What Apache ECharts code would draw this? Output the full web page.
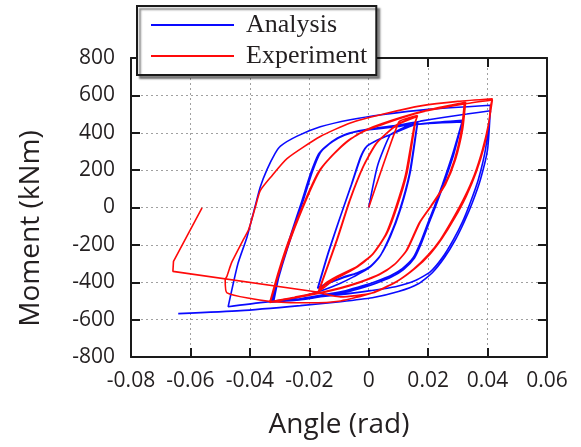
<!DOCTYPE html>
<html>
<head>
<meta charset="utf-8">
<script src="https://cdn.jsdelivr.net/npm/echarts/dist/echarts.min.js"></script>
<style>
html,body{margin:0;padding:0;background:#fff;}
#chart{width:581px;height:447px;}
</style>
</head>
<body>
<div id="chart"></div>
<script>
// ---- tick values ----
const xTicks = [-0.08, -0.06, -0.04, -0.02, 0, 0.02, 0.04, 0.06];
const yTicks = [-800, -600, -400, -200, 0, 200, 400, 600, 800];

// ---- Analysis (blue) : [angle (rad), moment (kNm)] ----
const analysisInitial = [[0,0],[0.003,225],[0.0071,386],[0.0095,410],[0.0125,432],[0.0165,455]];
const analysisCycle1 = [
  [0.0163,435],[0.014,190],[0.0107,-10],[0.0073,-155],[0.004,-255],[0.0005,-315],[-0.004,-350],[-0.0085,-372],[-0.013,-400],[-0.017,-428],
  [-0.0135,-240],[-0.0095,-47],[-0.0055,135],[-0.0025,275],[-0.0005,330],[0.003,362],[0.0065,385],[0.011,418],[0.0165,452],
  [0.0162,430],[0.0138,185],[0.0104,-15],[0.007,-160],[0.0038,-260],[0.0002,-320],[-0.0045,-355],[-0.009,-378],[-0.0135,-405],[-0.0172,-432],
  [-0.0138,-250],[-0.0098,-60],[-0.0058,125],[-0.0028,268],[-0.0008,325],[0.0028,360],[0.0062,383],[0.011,415],[0.0165,450]
];
const analysisCycle2 = [
  [0.0161,425],[0.0137,180],[0.0103,-20],[0.0068,-165],[0.0035,-268],[0.0,-325],[-0.005,-370],[-0.0095,-405],[-0.015,-440],[-0.021,-470],[-0.027,-490],[-0.0325,-502],
  [-0.0295,-330],[-0.0253,-118],[-0.022,40],[-0.019,190],[-0.0163,293],[-0.014,330],[-0.01,375],[-0.006,400],[0.0,418],[0.0107,437],[0.02,450],[0.0314,458],
  [0.0282,284],[0.0248,123],[0.0221,5],[0.0201,-75],[0.0174,-188],[0.015,-268],[0.0113,-327],[0.0073,-365],[0.0022,-397],[-0.0018,-418],[-0.0078,-445],[-0.0129,-461],[-0.023,-488],[-0.032,-504],
  [-0.0298,-340],[-0.0256,-125],[-0.0223,35],[-0.0193,185],[-0.0166,290],[-0.0143,328],[-0.0102,372],[-0.0062,398],[0.0,416],[0.0107,435],[0.02,452],[0.0316,466],
  [0.0286,284],[0.0252,123],[0.0225,5],[0.0205,-75],[0.0178,-188],[0.0154,-270],[0.0117,-332],[0.0076,-372],[0.0025,-405],[-0.0015,-426],[-0.0075,-452],[-0.0126,-468],[-0.0228,-494],[-0.033,-507]
];
const analysisCycle3 = [
  [-0.0301,-345],[-0.0259,-130],[-0.0226,30],[-0.0196,180],[-0.0169,285],[-0.0146,325],[-0.0105,372],[-0.0065,398],[0.0,420],[0.0107,442],[0.0174,462],[0.025,482],[0.033,500],[0.041,518],
  [0.0393,311],[0.0369,150],[0.0342,27],[0.0316,-75],[0.0285,-172],[0.0248,-268],[0.0208,-343],[0.0157,-391],[0.009,-424],[0.0006,-445],[-0.0095,-466],[-0.023,-488],[-0.0365,-509],[-0.0473,-531],
  [-0.044,-300],[-0.041,-160],[-0.0385,-10],[-0.0365,110],[-0.0342,204],[-0.0315,290],[-0.0297,329],[-0.0241,382],[-0.0163,432],[-0.0062,470],[0.005,498],[0.02,525],[0.041,547]
];
const analysisFinal = [
  [0.04,311],[0.0376,150],[0.0349,27],[0.0322,-75],[0.0292,-172],[0.0255,-268],[0.0214,-349],[0.0167,-408],[0.01,-450],[0.0012,-483],[-0.0095,-504],[-0.023,-525],[-0.0431,-552],[-0.0641,-568]
];

// ---- Experiment (red) ----
const experimentInitial = [[0,0],[0.0101,457],[0.0125,475],[0.0164,492]];
const experimentCycle1 = [
  [0.0157,454],[0.0129,186],[0.0096,7],[0.0062,-136],[0.0017,-243],[-0.0039,-315],[-0.0106,-368],[-0.0145,-405],[-0.0168,-449],
  [-0.0106,-172],[-0.0062,43],[-0.0017,222],[0.0028,347],[0.0096,445],[0.0164,490],
  [0.0155,448],[0.0126,180],[0.0093,0],[0.0059,-142],[0.0014,-250],[-0.0042,-322],[-0.0108,-375],[-0.0147,-412],[-0.017,-452],
  [-0.0109,-180],[-0.0065,35],[-0.002,215],[0.0025,342],[0.0094,440],[0.0163,487]
];
const experimentCycle2 = [
  [0.0154,445],[0.0124,175],[0.009,-5],[0.0056,-148],[0.001,-255],[-0.005,-330],[-0.0115,-385],[-0.0172,-452],[-0.025,-480],[-0.0331,-505],
  [-0.0298,-330],[-0.0264,-172],[-0.0208,50],[-0.0163,200],[-0.0118,285],[-0.0062,365],[-0.0006,418],[0.0107,481],[0.0208,525],[0.0326,563],
  [0.0316,418],[0.0292,257],[0.0258,123],[0.0214,16],[0.0174,-75],[0.013,-225],[0.009,-300],[0.0039,-354],[-0.0028,-397],[-0.0095,-429],[-0.0196,-466],[-0.0331,-504],
  [-0.0301,-340],[-0.0268,-180],[-0.0212,40],[-0.0167,192],[-0.0122,278],[-0.0066,360],[-0.001,413],[0.0105,478],[0.0206,522],[0.0322,560],
  [0.0312,415],[0.0288,252],[0.0254,118],[0.021,10],[0.017,-82],[0.0126,-232],[0.0086,-306],[0.0035,-360],[-0.0032,-402],[-0.0099,-434],[-0.02,-470],[-0.0333,-508]
];
const experimentCycle3 = [
  [-0.0304,-345],[-0.0271,-185],[-0.0215,35],[-0.017,188],[-0.0125,275],[-0.007,358],[-0.0012,410],[0.0105,476],[0.0174,510],[0.0326,555],[0.0416,575],
  [0.0403,445],[0.0383,311],[0.0356,177],[0.0322,54],[0.0282,-64],[0.0241,-172],[0.0201,-252],[0.0151,-330],[0.009,-400],[0.0006,-460],[-0.0095,-500],[-0.02,-510],[-0.033,-503],[-0.0477,-457],
  [-0.0483,-386],[-0.0477,-368],[-0.0466,-315],[-0.046,-290],
  [-0.0422,-172],[-0.0404,-118],[-0.0382,0],[-0.0365,90],[-0.0331,160],[-0.0275,262],[-0.0163,380],[-0.0062,452],[0.005,500],[0.018,545],[0.03,568],[0.0416,582]
];
const experimentFinalUnload = [
  [0.041,540],[0.0406,470],[0.0389,330],[0.0362,190],[0.0328,60],[0.0288,-60],[0.0247,-165],[0.0207,-248],[0.0157,-325],[0.0096,-395],[0.0012,-458],[-0.0095,-478],[-0.0174,-452]
];
const experimentFailure = [[-0.0174,-452],[-0.0659,-342],[-0.0657,-288],[-0.0561,-2]];

const analysisData = [].concat(analysisInitial, analysisCycle1, analysisCycle2, analysisCycle3, analysisFinal);
const experimentData = [].concat(experimentInitial, experimentCycle1, experimentCycle2, experimentCycle3, experimentFinalUnload);

const txt = '#231f20';
const blue = '#0a0aff', red = '#ff0a0a';
const axisLine = {show: true, onZero: false, lineStyle: {color: '#1a1a1a', width: 2}};
const tick = {show: true, inside: true, length: 9, lineStyle: {color: '#1a1a1a', width: 2}};
const grid = {show: true, lineStyle: {color: '#a0a0a0', width: 1, type: [2, 3]}};

const chart = echarts.init(document.getElementById('chart'));
chart.setOption({
  animation: false,
  backgroundColor: '#fff',
  grid: {left: 131, right: 34, top: 58, bottom: 90, containLabel: false},
  legend: {
    data: ['Analysis', 'Experiment'],
    orient: 'vertical', left: 137, top: 6,
    icon: 'rect', itemWidth: 83, itemHeight: 2, itemGap: 5,
    padding: [6, 9, 6, 14],
    backgroundColor: '#fff', borderColor: '#1a1a1a', borderWidth: 2,
    shadowColor: 'rgba(0,0,0,0.45)', shadowBlur: 2, shadowOffsetX: 3, shadowOffsetY: 3,
    textStyle: {fontFamily: 'Liberation Serif', fontSize: 26, color: txt, lineHeight: 26, padding: [0, 0, 0, 7]}
  },
  xAxis: [{
    type: 'value', min: xTicks[0], max: xTicks[xTicks.length - 1], interval: 0.02, position: 'bottom',
    axisLine: axisLine, axisTick: tick, splitLine: grid,
    axisLabel: {fontFamily: 'Open Sans', fontSize: 21, color: txt, margin: 14},
    name: 'Angle (rad)', nameLocation: 'middle', nameGap: 54,
    nameTextStyle: {fontFamily: 'Open Sans', fontSize: 28, color: txt}
  }, {
    type: 'value', min: xTicks[0], max: xTicks[xTicks.length - 1], interval: 0.02, position: 'top',
    axisLine: axisLine, axisTick: tick, splitLine: {show: false}, axisLabel: {show: false}
  }],
  yAxis: [{
    type: 'value', min: yTicks[0], max: yTicks[yTicks.length - 1], interval: 200, position: 'left',
    axisLine: axisLine, axisTick: tick, splitLine: grid,
    axisLabel: {fontFamily: 'Open Sans', fontSize: 21, color: txt, margin: 16},
    name: 'Moment (kNm)', nameLocation: 'middle', nameGap: 86,
    nameTextStyle: {fontFamily: 'Open Sans', fontSize: 28, color: txt, padding: [0, 42, 0, 0]}
  }, {
    type: 'value', min: yTicks[0], max: yTicks[yTicks.length - 1], interval: 200, position: 'right',
    axisLine: axisLine, axisTick: tick, splitLine: {show: false}, axisLabel: {show: false}
  }],
  series: [{
    name: 'Analysis', type: 'line', data: analysisData, color: blue, smooth: 0.2,
    showSymbol: false, symbol: 'none', lineStyle: {width: 1.6, color: blue}, z: 3
  }, {
    name: 'Experiment', type: 'line', data: experimentData, color: red, smooth: 0.2,
    showSymbol: false, symbol: 'none', lineStyle: {width: 1.6, color: red}, z: 4
  }, {
    name: 'Experiment', type: 'line', data: experimentFailure, color: red,
    showSymbol: false, symbol: 'none', lineStyle: {width: 1.6, color: red}, z: 4
  }]
});
</script>
</body>
</html>
